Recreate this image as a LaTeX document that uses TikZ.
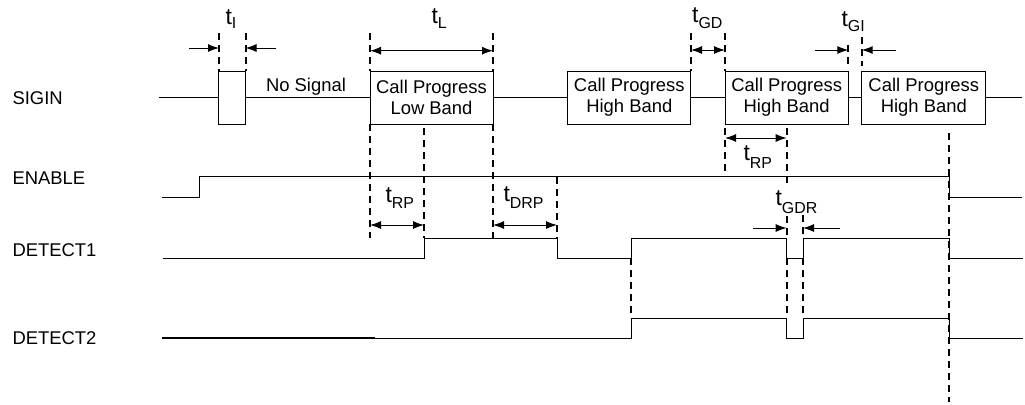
\documentclass[tikz,border=0pt]{standalone}
\usepackage{fontspec}
\setmainfont{Liberation Sans}
\usetikzlibrary{arrows.meta}
% t with a subscript, #1 = drop of the subscript
\newcommand{\tlab}[2][3]{{\fontsize{23}{23}\selectfont t}\raisebox{-#1bp}{\fontsize{16}{16}\selectfont #2}}
\begin{document}
\begin{tikzpicture}[x=1bp, y=-1bp, line width=1bp, >={Latex[length=11bp,width=8bp]},
	font=\fontsize{18.5}{21}\selectfont,
	band/.style={draw, minimum height=53bp, inner sep=0pt, align=center},
	guide/.style={line width=2bp, dash pattern=on 7bp off 5bp},
	lab/.style={anchor=base west, inner sep=0pt}]
	\useasboundingbox (0,0) rectangle (1025,404);
	% signal names
	\path 
	(12,98) node[anchor=west, inner sep=0pt] (nSig) {SIGIN}
	(12,178) node[anchor=west, inner sep=0pt] (nEn) {ENABLE}
	(12,250) node[anchor=west, inner sep=0pt] (nD1) {DETECT1}
	(12,338) node[anchor=west, inner sep=0pt] (nD2) {DETECT2};
	% SIGIN
	\node[band, minimum width=26.5bp] (pls) at (232.2,97.5) {};
	\node[band, minimum width=123bp] (low) at (431.5,97.5) {Call Progress\\Low Band};
	\node[band, minimum width=123.3bp] (hiA) at (629.3,97.5) {Call Progress\\High Band};
	\node[band, minimum width=123.3bp] (hiB) at (786.7,97.5) {Call Progress\\High Band};
	\node[band, minimum width=124.3bp] (hiC) at (923.8,97.5) {Call Progress\\High Band};
	\node[anchor=base, inner sep=0pt] (nosig) at (306,91) {No Signal};
	\coordinate (sigL) at (159,97.5);
	\coordinate (sigR) at (1022,97.5);
	\draw (sigL)--(pls.west) (pls.east)--(low.west) (low.east)--(hiA.west)
	(hiA.east)--(hiB.west) (hiB.east)--(hiC.west) (hiC.east)--(sigR);
	% ENABLE, DETECT1, DETECT2
	\draw (162,197.5) -| (199,176.7) -- (949,176.7) |- (1022,197.5);
	\draw (163,258) -| (424,238.3) -| (557,258) -| (631,238.3) -| (786.7,258)
	-| (803,238.3) -| (949,258) -- (1023,258);
	\draw[line width=2.5bp] (162,338) -- (375,338);
	\draw (375,338) -| (631,318.3) -| (786.7,338) -| (803,318.3) -| (949,338) -- (1023,338);
	% dashed guides
	\draw[guide] 
	(219,33)--(219,71) (245.5,33)--(245.5,71)
	(370,33)--(370,71) (370,124)--(370,238)
	(493,33)--(493,71) (493,124)--(493,238)
	(424,128)--(424,238) (557,177)--(557,238)
	(691,33)--(691,71) (725,33)--(725,71) (725,128)--(725,173)
	(848.3,45)--(848.3,66) (861.7,37)--(861.7,66)
	(786.7,128)--(786.7,187) (786.7,216)--(786.7,238) (786.7,258)--(786.7,318)
	(803,215)--(803,238) (803,258)--(803,318)
	(631,258)--(631,318)
	(949,133)--(949,402);
	% arrow ends
	\path 
	(189,48) coordinate (tIa) (219,48) coordinate (tIb)
	(276,48) coordinate (tIc) (245.5,48) coordinate (tId)
	(370,50.7) coordinate (tLa) (493,50.7) coordinate (tLb)
	(691,50) coordinate (tGDa) (725,50) coordinate (tGDb)
	(815,50) coordinate (tGIa) (848.3,50) coordinate (tGIb)
	(896,50) coordinate (tGIc) (861.7,50) coordinate (tGId)
	(725,138) coordinate (tRPc) (786.7,138) coordinate (tRPd)
	(370,225) coordinate (tRPa) (424,225) coordinate (tRPb)
	(493,225) coordinate (tDRPa) (557,225) coordinate (tDRPb)
	(753,228) coordinate (tGDRa) (786.7,228) coordinate (tGDRb)
	(840,228) coordinate (tGDRc) (803,228) coordinate (tGDRd);
	\draw[->] (tIa)--(tIb);
	\draw[->] (tIc)--(tId);
	\draw[<->] (tLa)--(tLb);
	\draw[<->] (tGDa)--(tGDb);
	\draw[->] (tGIa)--(tGIb);
	\draw[->] (tGIc)--(tGId);
	\draw[<->] (tRPc)--(tRPd);
	\draw[<->] (tRPa)--(tRPb);
	\draw[<->] (tDRPa)--(tDRPb);
	\draw[->] (tGDRa)--(tGDRb);
	\draw[->] (tGDRc)--(tGDRd);
	% time labels
	\path 
	(225,24) node[lab] (lI) {\tlab[4]{I}}
	(431,23) node[lab] (lL) {\tlab[5]{L}}
	(691.7,22.7) node[lab] (lGD) {\tlab[5.6]{GD}}
	(841,26) node[lab] (lGI) {\tlab[5]{GI}}
	(385,202) node[lab] (lRPa) {\tlab[6]{RP}}
	(503,201.7) node[lab] (lDRP) {\tlab[6.6]{DRP}}
	(743,160) node[lab] (lRPb) {\tlab[8]{RP}}
	(775,205) node[lab] (lGDR) {\tlab[8]{GDR}};
\end{tikzpicture}
\end{document}
